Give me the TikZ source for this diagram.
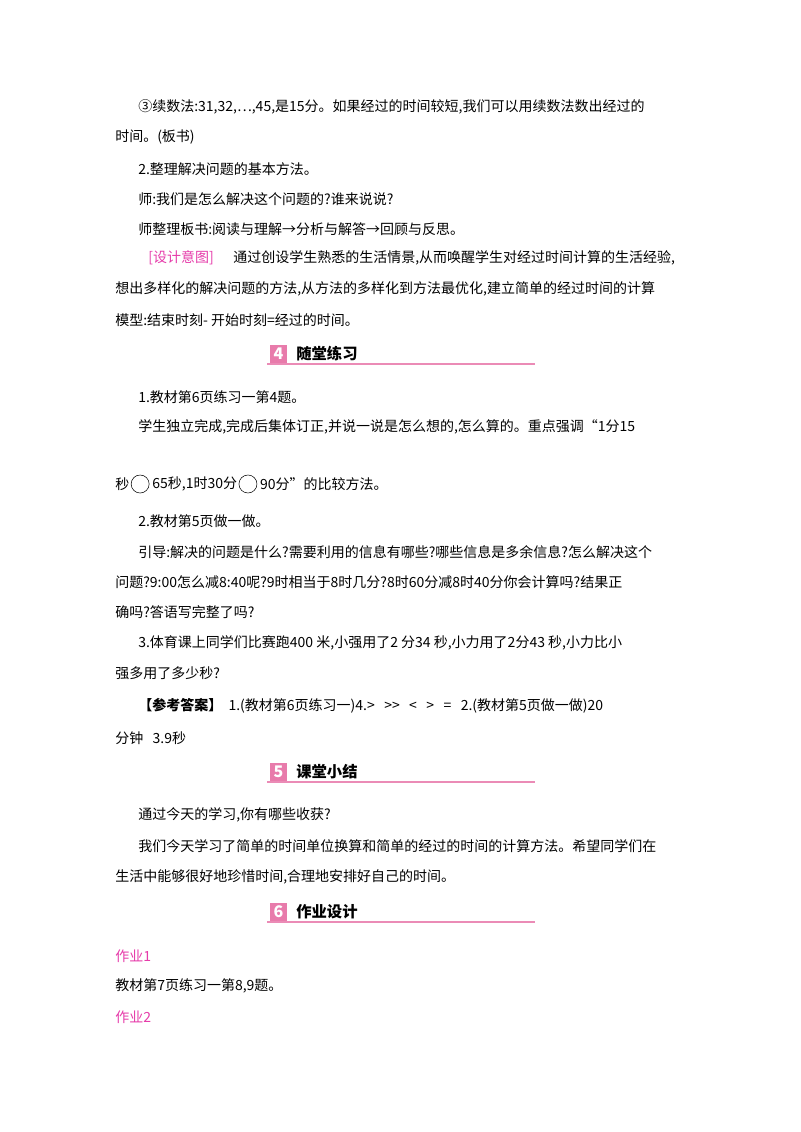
\documentclass[tikz,border=0pt]{standalone}
\usepackage{fontspec}
\setmainfont{Noto Sans CJK SC}
\definecolor{pk}{RGB}{230,60,170}
\definecolor{hdr}{RGB}{226,90,150}
\begin{document}
\begin{tikzpicture}[x=0.75pt,y=-0.75pt,
  t/.style={anchor=west,inner sep=0,font=\fontsize{10.5pt}{12pt}\selectfont},
  p/.style={t,text=pk},
  cir/.style={draw,circle,minimum size=13.5pt,inner sep=0,anchor=west},
  hn/.style={anchor=west,inner sep=0,font=\fontsize{11.5pt}{13pt}\selectfont\bfseries}]
\useasboundingbox[fill=white] (0,0) rectangle (800,1132);
\newcommand\hdrline[3]{%
  \fill[hdr!80] (270,#1-9) rectangle (287,#1+9);
  \node[inner sep=0,text=white,font=\bfseries\itshape\fontsize{12pt}{12pt}\selectfont] (#3n) at (278.5,#1) {#2};
  \draw[hdr!70,line width=0.8pt] (267,#1+10) -- (535,#1+10);}
\node[t] (l1) at (138,107) {③续数法:31,32,…,45,是15分。如果经过的时间较短,我们可以用续数法数出经过的};
\node[t] (l2) at (115,137) {时间。(板书)};
\node[t] (l3) at (138,169) {2.整理解决问题的基本方法。};
\node[t] (l4) at (138,199) {师:我们是怎么解决这个问题的?谁来说说?};
\node[t] (l5) at (138,229) {师整理板书:阅读与理解→分析与解答→回顾与反思。};
\node[p] (l6a) at (148,258) {[设计意图]};
\node[t] (l6) at (233,258) {通过创设学生熟悉的生活情景,从而唤醒学生对经过时间计算的生活经验,};
\node[t] (l7) at (115,289) {想出多样化的解决问题的方法,从方法的多样化到方法最优化,建立简单的经过时间的计算};
\node[t] (l8) at (115,320) {模型:结束时刻-\ 开始时刻=经过的时间。};
\hdrline{354}{4}{h4}
\node[hn] (h4) at (296,354) {随堂练习};
\node[t] (m1) at (138,397) {1.教材第6页练习一第4题。};
\node[t] (m2) at (138,427) {学生独立完成,完成后集体订正,并说一说是怎么想的,怎么算的。重点强调“1分15};
\node[t] (m3a) at (115,484) {秒};
\node[cir] (c1) at ([xshift=1pt]m3a.east) {};
\node[t] (m3b) at ([xshift=2pt]c1.east) {65秒,1时30分};
\node[cir] (c2) at ([xshift=1pt]m3b.east) {};
\node[t] (m3c) at ([xshift=2pt]c2.east) {90分”的比较方法。};
\node[t] (m4) at (138,521) {2.教材第5页做一做。};
\node[t] (m5) at (138,552) {引导:解决的问题是什么?需要利用的信息有哪些?哪些信息是多余信息?怎么解决这个};
\node[t] (m6) at (115,582) {问题?9:00怎么减8:40呢?9时相当于8时几分?8时60分减8时40分你会计算吗?结果正};
\node[t] (m7) at (115,612) {确吗?答语写完整了吗?};
\node[t] (m8) at (138,643) {3.体育课上同学们比赛跑400\ 米,小强用了2\ 分34\ 秒,小力用了2分43\ 秒,小力比小};
\node[t] (m9) at (115,673) {强多用了多少秒?};
\node[t] (a1) at (138,706) {\textbf{【参考答案】}\ \ 1.(教材第6页练习一)4.>\ \ \ {>}{>}\ \ \ <\ \ \ >\ \ \ =\ \ \ 2.(教材第5页做一做)20};
\node[t] (a2) at (115,738) {分钟\ \ \ 3.9秒};
\hdrline{772}{5}{h5}
\node[hn] (h5) at (296,772) {课堂小结};
\node[t] (s1) at (138,815) {通过今天的学习,你有哪些收获?};
\node[t] (s2) at (138,846) {我们今天学习了简单的时间单位换算和简单的经过的时间的计算方法。希望同学们在};
\node[t] (s3) at (115,877) {生活中能够很好地珍惜时间,合理地安排好自己的时间。};
\hdrline{912}{6}{h6}
\node[hn] (h6) at (296,912) {作业设计};
\node[p] (w1) at (115,956) {作业1};
\node[t] (w2) at (115,986) {教材第7页练习一第8,9题。};
\node[p] (w3) at (115,1017) {作业2};
\end{tikzpicture}
\end{document}
